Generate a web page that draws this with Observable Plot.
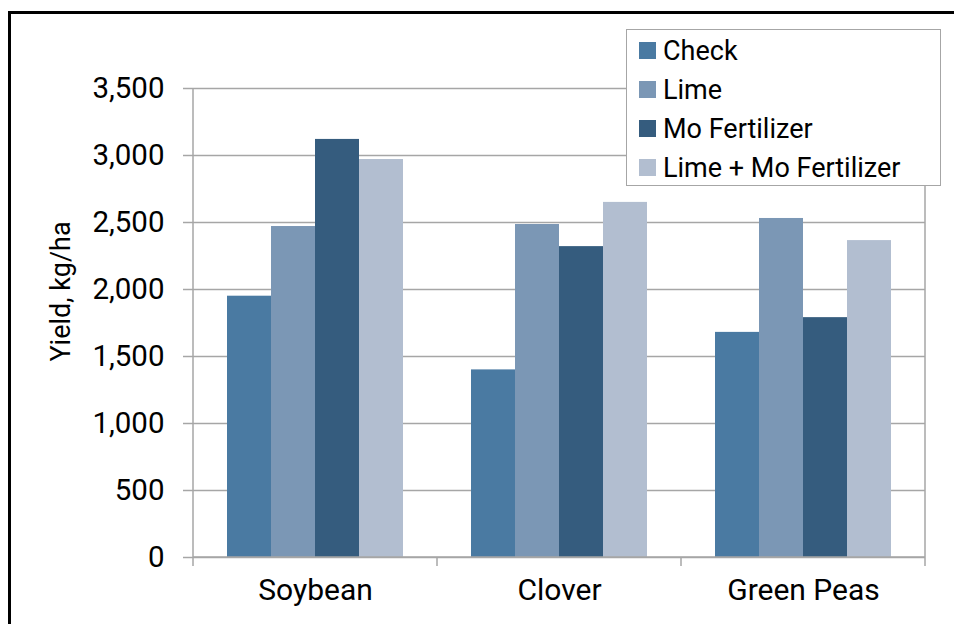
<!DOCTYPE html>
<html>
<head>
<meta charset="utf-8">
<script src="https://cdn.jsdelivr.net/npm/d3@7"></script>
<script src="https://cdn.jsdelivr.net/npm/@observablehq/plot@0.6"></script>
<style>
  html, body { margin: 0; padding: 0; background: #fff; overflow: hidden; }
  #wrap { position: relative; width: 954px; height: 624px; font-family: Roboto, sans-serif; }
  #border { position: absolute; left: 8px; top: 11px; width: 960px; height: 640px; border-top: 3px solid #000; border-left: 3px solid #000; box-sizing: border-box; }
  #chart { position: absolute; left: 0; top: 0; }
  #legend { position: absolute; left: 626px; top: 29px; width: 315px; height: 157px; box-sizing: border-box;
            border: 1.5px solid #a6a6a6; background: #fff; padding-top: 1px; }
  .row { height: 39px; display: flex; align-items: center; font-size: 27px; color: #000; }
  .sw { width: 17px; height: 17px; margin-left: 12px; margin-right: 7px; flex: none; }
</style>
</head>
<body>
<div id="wrap">
  <div id="border"></div>
  <div id="chart"></div>
  <div id="legend"></div>
</div>
<script>
const crops = ["Soybean", "Clover", "Green Peas"];
const treatments = ["Check", "Lime", "Mo Fertilizer", "Lime + Mo Fertilizer"];
const checkValues = [1950, 1400, 1680];
const limeValues = [2470, 2485, 2530];
const moValues = [3120, 2320, 1790];
const limeMoValues = [2970, 2650, 2365];
const yTicks = [0, 500, 1000, 1500, 2000, 2500, 3000, 3500];
const colors = ["#4a7aa2", "#7b97b5", "#355c7e", "#b2bed0"];
const yLabel = "Yield, kg/ha";

const series = [checkValues, limeValues, moValues, limeMoValues];
const data = crops.flatMap((c, i) => treatments.map((t, j) => ({crop: c, treatment: t, value: series[j][i]})));

const grey = "#a6a6a6";
const chart = Plot.plot({
  width: 954,
  height: 624,
  marginLeft: 192,
  marginRight: 29,
  marginTop: 88,
  marginBottom: 67,
  style: {fontFamily: "Roboto, sans-serif", fontSize: "28px", color: "#000", background: "transparent", overflow: "visible"},
  fx: {domain: crops, padding: 0, label: null},
  x: {domain: treatments, paddingInner: 0, paddingOuter: 0.75, axis: null},
  y: {domain: [0, 3500], label: null},
  color: {domain: treatments, range: colors},
  marks: [
    Plot.gridY(yTicks, {stroke: grey, strokeOpacity: 1, strokeWidth: 1.5}),
    Plot.barY(data, {fx: "crop", x: "treatment", y: "value", fill: "treatment"}),
    Plot.axisY(yTicks, {tickSize: 10, tickPadding: 19, tickFormat: d3.format(","), stroke: grey, strokeOpacity: 1, strokeWidth: 1.5, label: null, fontSize: 29.5, fill: "#000"}),
    Plot.axisFx({anchor: "bottom", tickSize: 0, tickPadding: 21, label: null, fontSize: 30, fill: "#000"})
  ]
});
document.getElementById("chart").appendChild(chart);

// axis lines & category boundary ticks from the scales
const y = chart.scale("y");
const fx = chart.scale("fx");
const y0 = y.apply(0), yTop = y.apply(3500);
const lefts = crops.map(c => fx.apply(c));
const right = fx.apply(crops[crops.length - 1]) + fx.bandwidth;
const svg = d3.select(chart);
const g = svg.append("g").attr("stroke", grey).attr("stroke-width", 1.5);
g.append("line").attr("x1", lefts[0]).attr("x2", lefts[0]).attr("y1", yTop).attr("y2", y0 + 9);
g.append("line").attr("x1", right).attr("x2", right).attr("y1", yTop).attr("y2", y0 + 9);
g.append("line").attr("x1", lefts[0]).attr("x2", right).attr("y1", y0).attr("y2", y0);
lefts.slice(1).forEach(x => g.append("line").attr("x1", x).attr("x2", x).attr("y1", y0).attr("y2", y0 + 9));
svg.append("text")
  .attr("transform", `translate(70,${(y0 + yTop) / 2 - 31}) rotate(-90)`)
  .attr("text-anchor", "middle")
  .attr("font-size", 27)
  .attr("fill", "#000")
  .text(yLabel);

// legend
const legend = d3.select("#legend");
treatments.forEach((t, i) => {
  const row = legend.append("div").attr("class", "row");
  row.append("div").attr("class", "sw").style("background", colors[i]);
  row.append("span").text(t);
});
</script>
</body>
</html>
